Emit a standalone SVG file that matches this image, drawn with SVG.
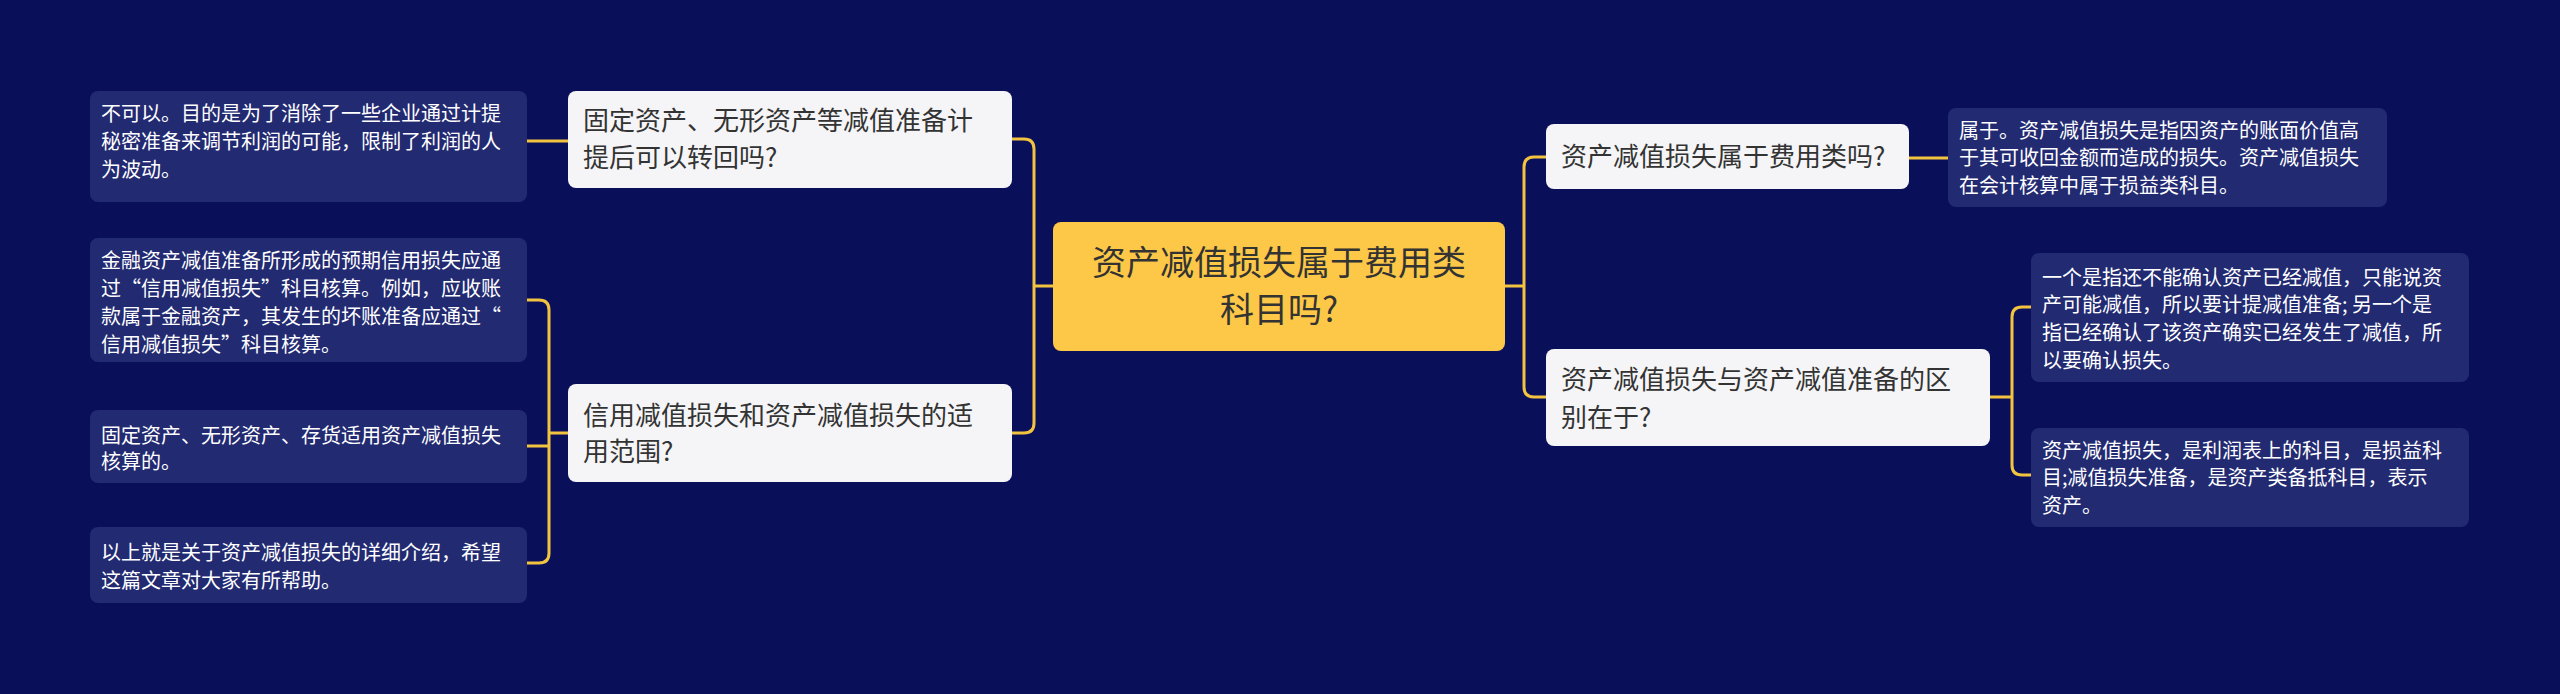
<svg xmlns="http://www.w3.org/2000/svg" width="2560" height="694" viewBox="0 0 2560 694">
<style>
text{font-family:"Noto Sans CJK SC","Noto Sans",sans-serif}
.c{fill:#fdc847}
.w{fill:#f5f5f7}
.d{fill:#222a72}
.tc{font-size:34px;fill:#333}
.tw{font-size:26px;fill:#333}
.td{font-size:20px;fill:#fff}
.ln{fill:none;stroke:#f2c33e;stroke-width:3}
</style>
<rect width="2560" height="694" fill="#0a0f5a"/>
<g id="connectors">
<path class="ln" d="M1053,286 H1034 M1012,139 H1024 Q1034,139 1034,149 V423 Q1034,433 1024,433 H1012"/>
<path class="ln" d="M1505,286 H1524 M1546,157 H1534 Q1524,157 1524,167 V387 Q1524,397 1534,397 H1546"/>
<path class="ln" d="M568,141 H527"/>
<path class="ln" d="M568,433 H549 M527,300 H539 Q549,300 549,310 V553 Q549,563 539,563 H527 M527,446 H549"/>
<path class="ln" d="M1909,158 H1948"/>
<path class="ln" d="M1990,397 H2012 M2031,307 H2022 Q2012,307 2012,317 V465 Q2012,475 2022,475 H2031"/>
</g>
<g id="center"><rect class="c" x="1053" y="222" width="452" height="129" rx="8"/>
<text class="tc" x="1279" y="275" text-anchor="middle">资产减值损失属于费用类</text>
<text class="tc" x="1279" y="322" text-anchor="middle">科目吗?</text></g>
<g id="l1"><rect class="w" x="568" y="91" width="444" height="97" rx="8"/>
<text class="tw" x="583" y="130">固定资产、无形资产等减值准备计</text>
<text class="tw" x="583" y="167">提后可以转回吗?</text></g>
<g id="l2"><rect class="w" x="568" y="384" width="444" height="98" rx="8"/>
<text class="tw" x="583" y="425">信用减值损失和资产减值损失的适</text>
<text class="tw" x="583" y="461">用范围?</text></g>
<g id="r1"><rect class="w" x="1546" y="124" width="363" height="65" rx="8"/>
<text class="tw" x="1561" y="166">资产减值损失属于费用类吗?</text></g>
<g id="r2"><rect class="w" x="1546" y="349" width="444" height="97" rx="8"/>
<text class="tw" x="1561" y="389">资产减值损失与资产减值准备的区</text>
<text class="tw" x="1561" y="427">别在于?</text></g>
<g id="ll1"><rect class="d" x="90" y="91" width="437" height="111" rx="8"/>
<text class="td" x="101" y="121">不可以。目的是为了消除了一些企业通过计提</text>
<text class="td" x="101" y="149">秘密准备来调节利润的可能，限制了利润的人</text>
<text class="td" x="101" y="177">为波动。</text></g>
<g id="ll2"><rect class="d" x="90" y="238" width="437" height="124" rx="8"/>
<text class="td" x="101" y="268">金融资产减值准备所形成的预期信用损失应通</text>
<text class="td" x="101" y="296">过“信用减值损失”科目核算。例如，应收账</text>
<text class="td" x="101" y="324">款属于金融资产，其发生的坏账准备应通过“</text>
<text class="td" x="101" y="352">信用减值损失”科目核算。</text></g>
<g id="ll3"><rect class="d" x="90" y="410" width="437" height="73" rx="8"/>
<text class="td" x="101" y="443">固定资产、无形资产、存货适用资产减值损失</text>
<text class="td" x="101" y="469">核算的。</text></g>
<g id="ll4"><rect class="d" x="90" y="527" width="437" height="76" rx="8"/>
<text class="td" x="101" y="560">以上就是关于资产减值损失的详细介绍，希望</text>
<text class="td" x="101" y="588">这篇文章对大家有所帮助。</text></g>
<g id="rr1"><rect class="d" x="1948" y="108" width="439" height="99" rx="8"/>
<text class="td" x="1959" y="138">属于。资产减值损失是指因资产的账面价值高</text>
<text class="td" x="1959" y="165">于其可收回金额而造成的损失。资产减值损失</text>
<text class="td" x="1959" y="193">在会计核算中属于损益类科目。</text></g>
<g id="rr2"><rect class="d" x="2031" y="253" width="438" height="129" rx="8"/>
<text class="td" x="2042" y="285">一个是指还不能确认资产已经减值，只能说资</text>
<text class="td" x="2042" y="312">产可能减值，所以要计提减值准备; 另一个是</text>
<text class="td" x="2042" y="340">指已经确认了该资产确实已经发生了减值，所</text>
<text class="td" x="2042" y="368">以要确认损失。</text></g>
<g id="rr3"><rect class="d" x="2031" y="428" width="438" height="99" rx="8"/>
<text class="td" x="2042" y="458">资产减值损失，是利润表上的科目，是损益科</text>
<text class="td" x="2042" y="485">目;减值损失准备，是资产类备抵科目，表示</text>
<text class="td" x="2042" y="513">资产。</text></g>
</svg>
